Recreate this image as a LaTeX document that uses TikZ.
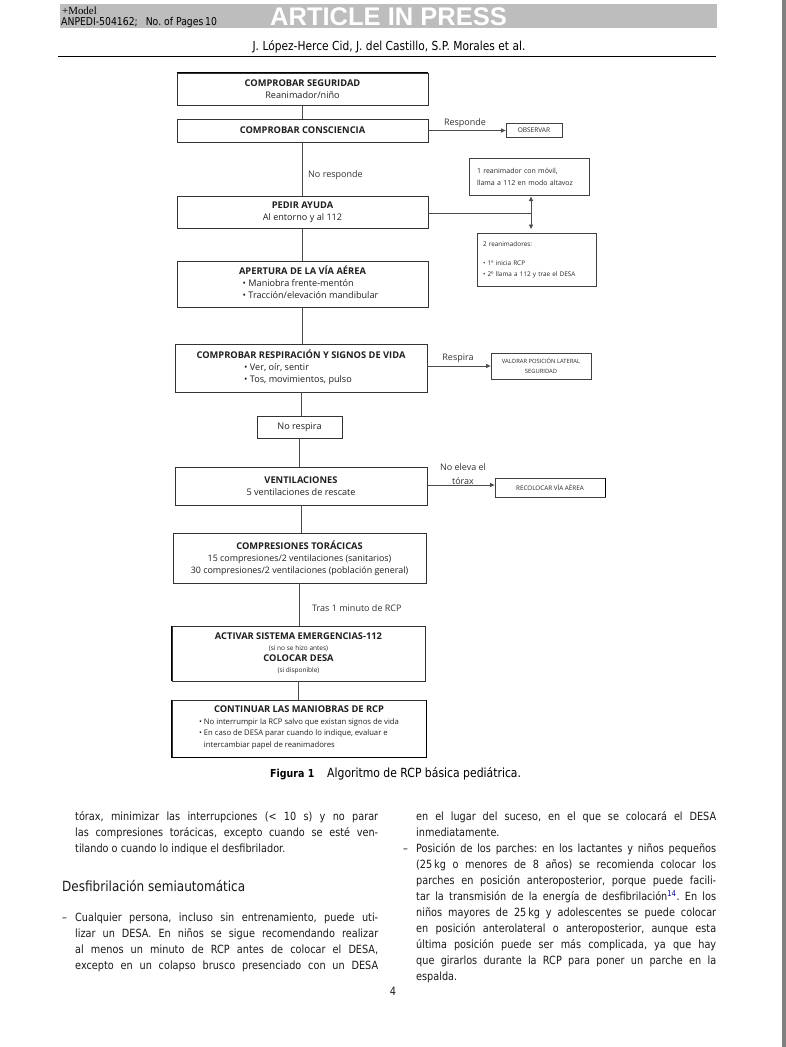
\documentclass[tikz,border=0pt]{standalone}
\usepackage{fontspec}
\setmainfont{Open Sans}
\newfontfamily\bodyf{DejaVu Sans}[FakeStretch=0.86]
\newfontfamily\serf{Liberation Serif}
\newfontfamily\arialf{Liberation Sans}
\usetikzlibrary{arrows.meta,calc}
\newcommand\hd{\fontsize{9.3}{12}\bfseries}
\newcommand\jl[1]{\makebox[303pt][s]{#1}}
\newcommand\jr[1]{\makebox[300pt][s]{#1}}
\frenchspacing
\tikzset{
 fbox/.style={draw=black!80, line width=0.9pt, inner sep=0pt, align=center, text=black!88, font=\fontsize{9.1}{12}\selectfont},
 sbox/.style={draw=black!75, line width=0.8pt, inner sep=0pt, text=black!85, font=\fontsize{6}{10}\selectfont},
 conn/.style={draw=black!70, line width=0.9pt},
 arr/.style={conn, -{Triangle[length=4.5pt,width=4pt]}},
 dbl/.style={conn, {Triangle[length=4.5pt,width=4pt]}-{Triangle[length=4.5pt,width=4pt]}},
 lbl/.style={inner sep=0pt, text=black!80, font=\fontsize{9}{14}\selectfont},
 thk/.style={draw=black, line width=1.8pt},
 body/.style={inner sep=0pt, anchor=base west, text=black!90, font=\bodyf\fontsize{11.3}{16}\selectfont},
}
\begin{document}
\begin{tikzpicture}[x=1pt,y=-1pt]
\useasboundingbox (0,0) rectangle (786,1047);
\fill[white] (0,0) rectangle (786,1047);
\fill[black!50] (782,0) rectangle (786,1047);
% header
\fill[black!26] (60,4) rectangle (717,28);
\node[anchor=base west, inner sep=0pt, font=\serf\fontsize{10.9}{12}\selectfont] (hm) at (62,14) {+Model};
\node[anchor=base west, inner sep=0pt, font=\bodyf\fontsize{10.8}{12}\selectfont] (hid) at (61,25.5) {ANPEDI-504162;\hspace{8pt}No. of Pages\,10};
\node[anchor=base west, inner sep=0pt, text=white, font=\arialf\fontsize{25.5}{26}\bfseries] (aip) at (270,25.5) {ARTICLE IN PRESS};
\node[anchor=base, inner sep=0pt, font=\bodyf\fontsize{12.4}{13}\selectfont] (auth) at (389,50.5) {J. López-Herce Cid, J. del Castillo, S.P. Morales et al.};
\draw[line width=0.8pt] (58,56) -- (716,56);

% flowchart main boxes
\node[fbox, minimum width=251pt, minimum height=32pt] (b1) at (302.5,89) {{\hd COMPROBAR SEGURIDAD}\\Reanimador/niño};
\node[fbox, minimum width=251pt, minimum height=23pt] (b2) at (302.5,130.5) {\hd COMPROBAR CONSCIENCIA};
\node[fbox, minimum width=251pt, minimum height=32pt] (b3) at (302.5,212.5) {{\hd PEDIR AYUDA}\\Al entorno y al 112};
\node[fbox, minimum width=251pt, minimum height=46pt] (b4) at (302.5,284) {{\hd APERTURA DE LA VÍA AÉREA}\\\hspace*{16pt}\begin{tabular}[t]{@{}l@{}}• Maniobra frente-mentón\\• Tracción/elevación mandibular\end{tabular}};
\node[fbox, minimum width=252pt, minimum height=48pt] (b5) at (301,368) {{\hd COMPROBAR RESPIRACIÓN Y SIGNOS DE VIDA}\\\begin{tabular}[t]{@{}l@{}}• Ver, oír, sentir\\• Tos, movimientos, pulso\end{tabular}\hspace*{6pt}};
\node[fbox, minimum width=85pt, minimum height=22pt] (nr) at (299.5,427) {No respira};
\node[fbox, minimum width=252pt, minimum height=38pt] (b6) at (301,486) {{\hd VENTILACIONES}\\5 ventilaciones de rescate};
\node[fbox, minimum width=253pt, minimum height=50pt, font=\fontsize{8.9}{11.5}\selectfont] (b7) at (299.5,558) {{\hd COMPRESIONES TORÁCICAS}\\[1pt]15 compresiones/2 ventilaciones (sanitarios)\\30 compresiones/2 ventilaciones (población general)};
\node[fbox, minimum width=253pt, minimum height=55pt, font=\fontsize{6.5}{11}\selectfont] (b8) at (298.5,653.5) {{\hd ACTIVAR SISTEMA EMERGENCIAS-112}\\(si no se hizo antes)\\{\hd COLOCAR DESA}\\(si disponible)};
\node[fbox, minimum width=254pt, minimum height=57pt, font=\fontsize{7.7}{11.5}\selectfont] (b9) at (299,728.5) {{\hd CONTINUAR LAS MANIOBRAS DE RCP}\\{\fontsize{7.7}{11.8}\selectfont\begin{tabular}[t]{@{}l@{}}• No interrumpir la RCP salvo que existan signos de vida\\• En caso de DESA parar cuando lo indique, evaluar e\\\phantom{• }intercambiar papel de reanimadores\end{tabular}}};

% side boxes
\node[sbox, minimum width=56pt, minimum height=14pt, font=\fontsize{6.5}{8}\selectfont] (obs) at (534,130) {OBSERVAR};
\node[sbox, align=left, inner xsep=8pt, text width=104pt, minimum height=37pt, font=\fontsize{7}{12}\selectfont] (r1) at (529,176.5) {1 reanimador con móvil,\\llama a 112 en modo altavoz};
\node[sbox, align=left, inner xsep=6pt, text width=107pt, minimum height=53pt, font=\fontsize{6.4}{11}\selectfont] (r2) at (536.5,259.5) {2 reanimadores:\\[8pt]• 1º inicia RCP\\• 2º llama a 112 y trae el DESA};
\node[sbox, align=center, minimum width=100pt, minimum height=26pt, font=\fontsize{5.8}{10}\selectfont] (val) at (541,366) {VALORAR POSICIÓN LATERAL\\SEGURIDAD};
\node[sbox, minimum width=110pt, minimum height=19pt, font=\fontsize{6.3}{8}\selectfont] (rec) at (550,487.5) {RECOLOCAR VÍA AÉREA};

% thick edges
\draw[thk] (b1.north west) -- (b1.north east);
\draw[thk] (rec.north east) -- (rec.south east);
\draw[thk] (b8.north west) -- (b8.south west);
\draw[thk] (b9.north west) -- (b9.south west) -- (b9.south east) -- (b9.north east);

% vertical connectors
\draw[conn] (b1.south) -- (b2.north);
\draw[conn] (b2.south) -- (b3.north);
\draw[conn] (b3.south) -- (b4.north);
\draw[conn] (b4.south) -- (b4.south |- b5.north);
\draw[conn] (b5.south) -- (b5.south |- nr.north);
\draw[conn] (nr.south) -- (nr.south |- b6.north);
\draw[conn] (b6.south) -- (b6.south |- b7.north);
\draw[conn] (b7.south) -- (b7.south |- b8.north);
\draw[conn] (b8.south) -- (b8.south |- b9.north);
\node[lbl, anchor=west] (lnr) at (308,175) {No responde};
\node[lbl, anchor=west] (ltr) at (312,608) {Tras 1 minuto de RCP};

% side connectors
\draw[arr] (b2.east) -- (b2.east -| obs.west);
\node[lbl] (lresp) at (465,123.5) {Responde};
\coordinate (j) at (531,213);
\coordinate (ja) at (531,196.5);
\coordinate (jb) at (531,229);
\draw[conn] (b3.east |- j) -- (j);
\draw[dbl] (ja) -- (jb);
\draw[arr] (b5.east |- val.west) -- (val.west);
\node[lbl] (lrsp) at (458,358) {Respira};
\draw[arr] (b6.east |- 0,485) -- (rec.west |- 0,485);
\node[lbl, align=center] (lnoe) at (463,474) {No eleva el\\tórax};

% caption
\node[anchor=base west, inner sep=0pt, font=\bodyf\fontsize{11}{12}\bfseries] (figl) at (270,777) {Figura 1};
\node[anchor=base west, inner sep=0pt, font=\bodyf\fontsize{12.6}{12}\selectfont] (figt) at (327,777) {Algoritmo de RCP básica pediátrica.};

% body left
\node[body] (l1) at (75,820) {\jl{tórax, minimizar las interrupciones (< 10 s) y no parar}};
\node[body] (l2) at (75,836) {\jl{las compresiones torácicas, excepto cuando se esté ven-}};
\node[body] (l3) at (75,852) {tilando o cuando lo indique el desfibrilador.};
\node[body, font=\bodyf\fontsize{14}{16}\selectfont] (hdd) at (62,891) {Desfibrilación semiautomática};
\node[body] (d1) at (62,921) {–};
\node[body] (l4) at (75,921) {\jl{Cualquier persona, incluso sin entrenamiento, puede uti-}};
\node[body] (l5) at (75,937) {\jl{lizar un DESA. En niños se sigue recomendando realizar}};
\node[body] (l6) at (75,953) {\jl{al menos un minuto de RCP antes de colocar el DESA,}};
\node[body] (l7) at (75,969) {\jl{excepto en un colapso brusco presenciado con un DESA}};

% body right
\node[body] (r01) at (416,820) {\jr{en el lugar del suceso, en el que se colocará el DESA}};
\node[body] (r02) at (416,836) {inmediatamente.};
\node[body] (d2) at (403,852) {–};
\node[body] (r03) at (416,852) {\jr{Posición de los parches: en los lactantes y niños pequeños}};
\node[body] (r04) at (416,868) {\jr{(25\,kg o menores de 8 años) se recomienda colocar los}};
\node[body] (r05) at (416,884) {\jr{parches en posición anteroposterior, porque puede facili-}};
\node[body] (r06) at (416,900) {\jr{tar la transmisión de la energía de desfibrilación\textsuperscript{\color{blue!60!black}14}. En los}};
\node[body] (r07) at (416,916) {\jr{niños mayores de 25\,kg y adolescentes se puede colocar}};
\node[body] (r08) at (416,932) {\jr{en posición anterolateral o anteroposterior, aunque esta}};
\node[body] (r09) at (416,948) {\jr{última posición puede ser más complicada, ya que hay}};
\node[body] (r10) at (416,964) {\jr{que girarlos durante la RCP para poner un parche en la}};
\node[body] (r11) at (416,980) {espalda.};
\node[body, anchor=base] (pg) at (393,995) {4};
\end{tikzpicture}
\end{document}
